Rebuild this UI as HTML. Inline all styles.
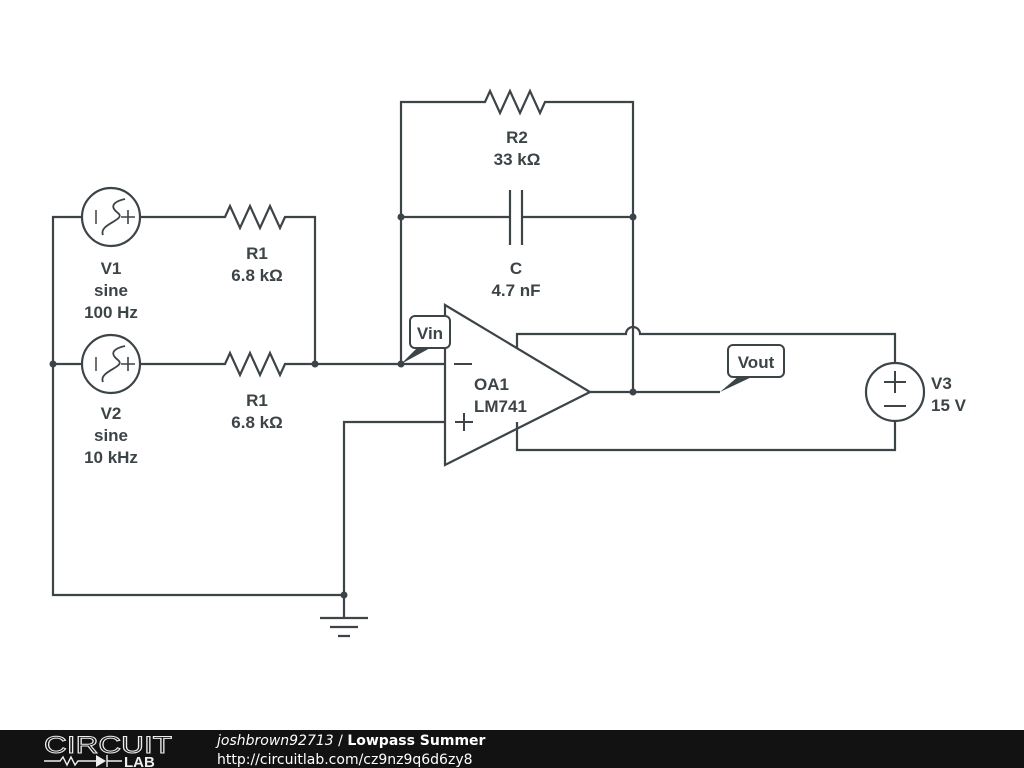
<!DOCTYPE html>
<html><head><meta charset="utf-8"><style>
body{margin:0;width:1024px;height:768px;background:#fff;overflow:hidden;font-family:"Liberation Sans",sans-serif}
svg{position:absolute;left:0;top:0}
</style></head><body>
<svg width="1024" height="768" viewBox="0 0 1024 768">
<g stroke="#3c4448" stroke-width="2.2" fill="none" stroke-linejoin="miter">
<path d="M82,217 H53 V595 H344"/>
<path d="M53,364 H82"/>
<circle cx="111" cy="217" r="29"/>
<circle cx="111" cy="364" r="29"/>
<path d="M140,217 H225 l5,-11 l10,22 l10,-22 l10,22 l10,-22 l10,22 l5,-11 H315 V364"/>
<path d="M140,364 H225 l5,-11 l10,22 l10,-22 l10,22 l10,-22 l10,22 l5,-11 H445"/>
<path d="M401,364 V102 H485 l5,-11 l10,22 l10,-22 l10,22 l10,-22 l10,22 l5,-11 H633 V392"/>
<path d="M401,217 H510 M510,190 V245 M522,190 V245 M522,217 H633"/>
<path d="M445,305 V465 L590,392 Z"/>
<path d="M445,422 H344 V618"/>
<path d="M320,618 H368 M330,627 H358 M338,636 H350"/>
<path d="M517,348 V334 H626 a7,7 0 0 1 14,0 H895 V363 M895,421 V450 H517 V422"/>
<path d="M590,392 H720"/>
<circle cx="895" cy="392" r="29"/>
<path d="M96,210 V224 M96,357 V371" stroke-width="1.5"/>
<path d="M103,235 C98,224 127,220 118,213 C110,207 112,202 125,199" stroke-width="1.8"/>
<path d="M103,382 C98,371 127,367 118,360 C110,354 112,349 125,346" stroke-width="1.8"/>
<path d="M121,217 H135 M128,210 V224 M121,364 H135 M128,357 V371" stroke-width="1.6"/>
<path d="M884,382 H906 M895,371 V393 M884,406 H906" stroke-width="2"/>
<path d="M454,364 H472 M455,422 H473 M464,413 V431" stroke-width="2"/>
</g>
<g fill="#3c4448">
<circle cx="53" cy="364" r="3.5"/><circle cx="315" cy="364" r="3.5"/><circle cx="401" cy="364" r="3.5"/>
<circle cx="401" cy="217" r="3.5"/><circle cx="633" cy="217" r="3.5"/><circle cx="633" cy="392" r="3.5"/>
<circle cx="344" cy="595" r="3.5"/>
<path d="M401,364 L418,347 L432,347 Z"/>
<path d="M720,392 L740,375 L756,375 Z"/>
</g>
<rect x="410" y="316" width="40" height="32" rx="5" fill="#fff" stroke="#3c4448" stroke-width="2"/>
<rect x="728" y="345" width="56" height="32" rx="5" fill="#fff" stroke="#3c4448" stroke-width="2"/>
<g font-family="Liberation Sans, sans-serif" font-weight="bold" font-size="17" fill="#3c4448" text-anchor="middle">
<text x="430" y="339">Vin</text>
<text x="756" y="368">Vout</text>
<text x="111" y="274">V1</text><text x="111" y="296">sine</text><text x="111" y="318">100 Hz</text>
<text x="111" y="419">V2</text><text x="111" y="441">sine</text><text x="111" y="463">10 kHz</text>
<text x="257" y="259">R1</text><text x="257" y="281">6.8 kΩ</text>
<text x="257" y="406">R1</text><text x="257" y="428">6.8 kΩ</text>
<text x="517" y="143">R2</text><text x="517" y="165">33 kΩ</text>
<text x="516" y="274">C</text><text x="516" y="296">4.7 nF</text>
<text x="474" y="390" text-anchor="start">OA1</text><text x="474" y="412" text-anchor="start">LM741</text>
<text x="931" y="389" text-anchor="start">V3</text><text x="931" y="411" text-anchor="start">15 V</text>
</g>
<rect x="0" y="730" width="1024" height="38" fill="#121212"/>
<text x="44" y="753" font-family="Liberation Sans, sans-serif" font-size="24" fill="none" stroke="#eee" stroke-width="1" textLength="128" lengthAdjust="spacingAndGlyphs">CIRCUIT</text>
<path d="M44,761 H60 l3,-4 l4,8 l4,-8 l4,8 l3,-4 H96 M107,755 V767 M107,761 H122" stroke="#eee" stroke-width="1.4" fill="none"/>
<path d="M96,755 L106,761 L96,767 Z" fill="#eee"/>
<text x="124" y="767" font-family="Liberation Sans, sans-serif" font-weight="bold" font-size="15" fill="#eee">LAB</text>
<text x="217" y="745" font-family="DejaVu Sans, sans-serif" font-size="14" fill="#fff"><tspan font-style="italic">joshbrown92713</tspan> / <tspan font-weight="bold">Lowpass Summer</tspan></text>
<text x="217" y="764" font-family="DejaVu Sans, sans-serif" font-size="14" fill="#fff">http://circuitlab.com/cz9nz9q6d6zy8</text>
</svg>
</body></html>
